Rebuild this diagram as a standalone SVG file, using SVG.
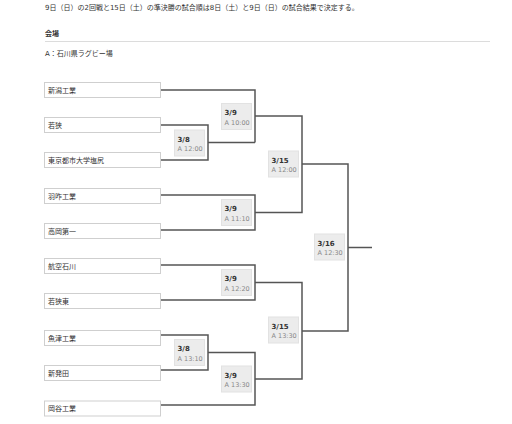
<svg xmlns="http://www.w3.org/2000/svg" width="512" height="424" viewBox="0 0 512 424">
<style>
text{font-family:"DejaVu Sans","Noto Sans CJK JP",sans-serif;fill:#333;font-size:7px}
.hd{font-weight:bold}
.team rect{fill:#fff;stroke:#cfcfcf;stroke-width:1}
.match rect{fill:#ececec;stroke:#e2e2e2;stroke-width:1}
.match .d{font-weight:bold;font-size:7px;fill:#333}
.match .t{font-size:6.5px;fill:#888}
.conn path{fill:none;stroke:#555;stroke-width:1.5}
</style>
<rect width="512" height="424" fill="#fff"/>
<text x="45" y="10">9日（日）の2回戦と15日（土）の準決勝の試合順は8日（土）と9日（日）の試合結果で決定する。</text>
<text class="hd" x="45" y="35.5">会場</text>
<line x1="45" y1="41.5" x2="490" y2="41.5" stroke="#dcdcdc" stroke-width="1"/>
<text x="45" y="56">A：石川県ラグビー場</text>

<g class="conn">
<path d="M160,90H255V142.5"/>
<path d="M160,125H208V160H160"/>
<path d="M208,142.5H255"/>
<path d="M160,195H255V230H160"/>
<path d="M160,265H255V300H160"/>
<path d="M160,335H208V370H160"/>
<path d="M208,352.5H255V405H160"/>
<path d="M255,116H302V212.5H255"/>
<path d="M255,282.5H302V379H255"/>
<path d="M302,164H348V331H302"/>
<path d="M348,247.5H372"/>
</g>

<g id="t1" class="team"><rect x="44.5" y="82.5" width="116" height="15"/><text x="48" y="92.5">新潟工業</text></g>
<g id="t2" class="team"><rect x="44.5" y="117.5" width="116" height="15"/><text x="48" y="127.5">若狭</text></g>
<g id="t3" class="team"><rect x="44.5" y="152.5" width="116" height="15"/><text x="48" y="162.5">東京都市大学塩尻</text></g>
<g id="t4" class="team"><rect x="44.5" y="188.5" width="116" height="15"/><text x="48" y="198.5">羽咋工業</text></g>
<g id="t5" class="team"><rect x="44.5" y="223.5" width="116" height="15"/><text x="48" y="233.5">高岡第一</text></g>
<g id="t6" class="team"><rect x="44.5" y="258.5" width="116" height="15"/><text x="48" y="268.5">航空石川</text></g>
<g id="t7" class="team"><rect x="44.5" y="293.5" width="116" height="15"/><text x="48" y="303.5">若狭東</text></g>
<g id="t8" class="team"><rect x="44.5" y="330.5" width="116" height="15"/><text x="48" y="340.5">魚津工業</text></g>
<g id="t9" class="team"><rect x="44.5" y="365.5" width="116" height="15"/><text x="48" y="375.5">新発田</text></g>
<g id="t10" class="team"><rect x="44.5" y="401" width="116" height="15"/><text x="48" y="411">岡谷工業</text></g>

<g id="m1" class="match"><rect x="174.5" y="130" width="30" height="26"/><text class="d" x="177.5" y="141.5">3/8</text><text class="t" x="177.5" y="151">A 12:00</text></g>
<g id="m2" class="match"><rect x="174.5" y="339.5" width="30" height="26"/><text class="d" x="177.5" y="351">3/8</text><text class="t" x="177.5" y="360.5">A 13:10</text></g>
<g id="m3" class="match"><rect x="221.5" y="103.5" width="30" height="26"/><text class="d" x="224.5" y="115">3/9</text><text class="t" x="224.5" y="124.5">A 10:00</text></g>
<g id="m4" class="match"><rect x="221.5" y="199.5" width="30" height="26"/><text class="d" x="224.5" y="211">3/9</text><text class="t" x="224.5" y="220.5">A 11:10</text></g>
<g id="m5" class="match"><rect x="221.5" y="269.5" width="30" height="26"/><text class="d" x="224.5" y="281">3/9</text><text class="t" x="224.5" y="290.5">A 12:20</text></g>
<g id="m6" class="match"><rect x="221.5" y="366" width="30" height="26"/><text class="d" x="224.5" y="377.5">3/9</text><text class="t" x="224.5" y="387">A 13:30</text></g>
<g id="m7" class="match"><rect x="268.5" y="151" width="30" height="26"/><text class="d" x="271.5" y="162.5">3/15</text><text class="t" x="271.5" y="172">A 12:00</text></g>
<g id="m8" class="match"><rect x="268.5" y="317" width="30" height="26"/><text class="d" x="271.5" y="328.5">3/15</text><text class="t" x="271.5" y="338">A 13:30</text></g>
<g id="m9" class="match"><rect x="314.5" y="234" width="30" height="26"/><text class="d" x="317.5" y="245.5">3/16</text><text class="t" x="317.5" y="255">A 12:30</text></g>
</svg>
